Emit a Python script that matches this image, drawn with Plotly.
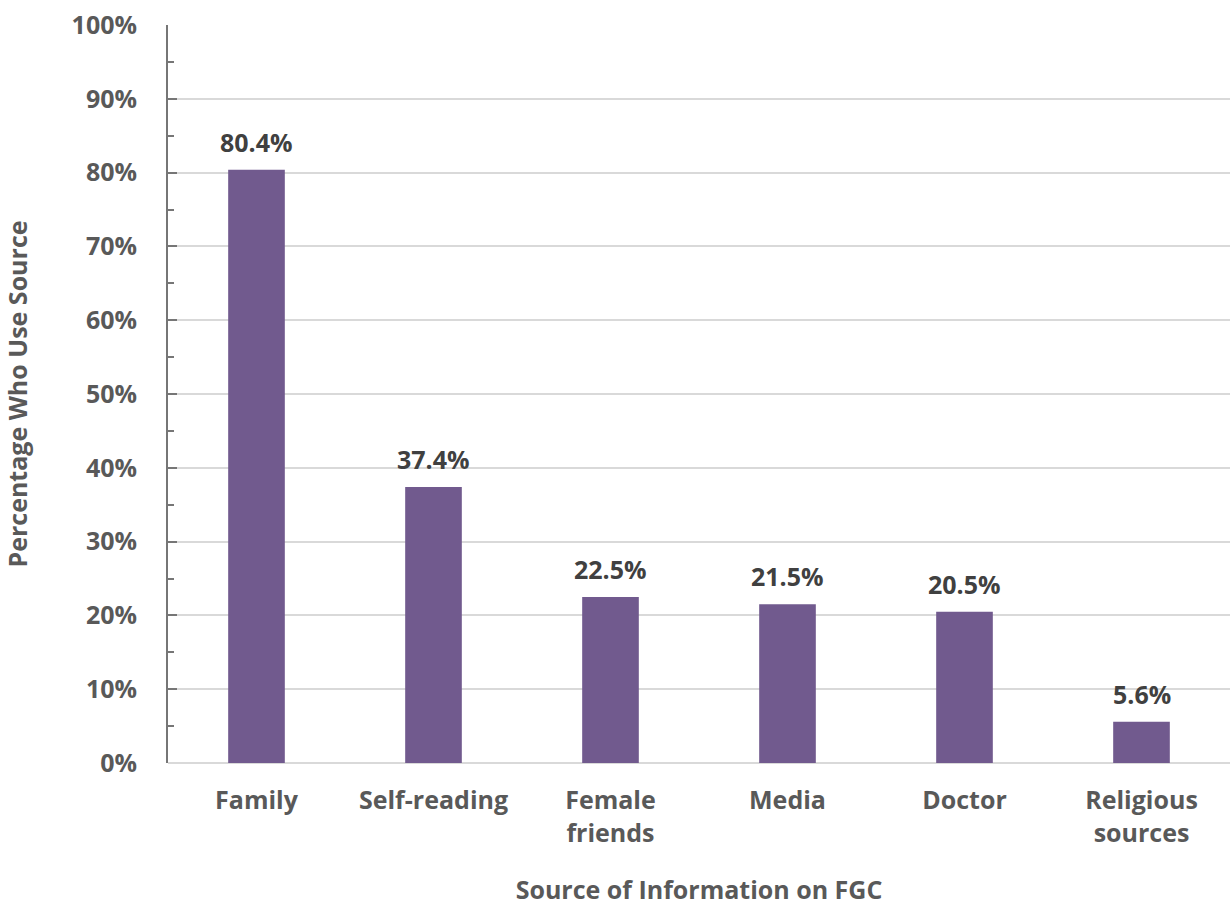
import plotly.graph_objects as go

# Sources of information on FGC and share of respondents using each
categories = ["Family", "Self-reading", "Female<br>friends", "Media", "Doctor", "Religious<br>sources"]
percent_values = [80.4, 37.4, 22.5, 21.5, 20.5, 5.6]
y_tick_values = [0, 10, 20, 30, 40, 50, 60, 70, 80, 90, 100]
y_tick_labels = [f"{v}%" for v in y_tick_values]

FONT = "Open Sans"
FONT_SIZE = 25
BAR_COLOR = "#715a8e"
LABEL_GREY = "#595959"
VALUE_GREY = "#404040"
GRID_GREY = "#d9d9d9"
AXIS_GREY = "#767676"


def bold_font(color=LABEL_GREY):
    return dict(family=FONT, size=FONT_SIZE, color=color, weight=700)


fig = go.Figure()
fig.add_trace(go.Bar(
    x=categories,
    y=percent_values,
    marker=dict(color=BAR_COLOR, line=dict(width=0)),
    width=0.32,
    hoverinfo="skip",
))

# Value labels above each bar
for cat, val in zip(categories, percent_values):
    fig.add_annotation(
        x=cat, y=val, text=f"{val:.1f}%", showarrow=False,
        yanchor="bottom", yshift=9,
        font=bold_font(VALUE_GREY),
    )

fig.update_layout(
    width=1230, height=906,
    margin=dict(l=168, r=0, t=25, b=143),
    plot_bgcolor="white", paper_bgcolor="white",
    showlegend=False,
    font=bold_font(),
)

fig.update_xaxes(
    showgrid=False, showline=False, zeroline=False,
    ticks="", ticklabelstandoff=20,
    tickfont=bold_font(),
    title=dict(text="Source of Information on FGC", standoff=34,
               font=bold_font()),
)

fig.update_yaxes(
    range=[0, 100],
    tickvals=y_tick_values, ticktext=y_tick_labels,
    showgrid=True, gridcolor=GRID_GREY, gridwidth=1.5,
    zeroline=True, zerolinecolor=GRID_GREY, zerolinewidth=1.5,
    showline=True, linecolor=AXIS_GREY, linewidth=2,
    ticks="inside", ticklen=9, tickwidth=2, tickcolor=AXIS_GREY,
    minor=dict(dtick=5, ticks="inside", ticklen=6, tickwidth=2,
               tickcolor=AXIS_GREY, showgrid=False),
    ticklabelstandoff=24,
    tickfont=bold_font(),
    title=dict(text="Percentage Who Use Source", standoff=38,
               font=bold_font()),
)

fig.write_html("out.html")
